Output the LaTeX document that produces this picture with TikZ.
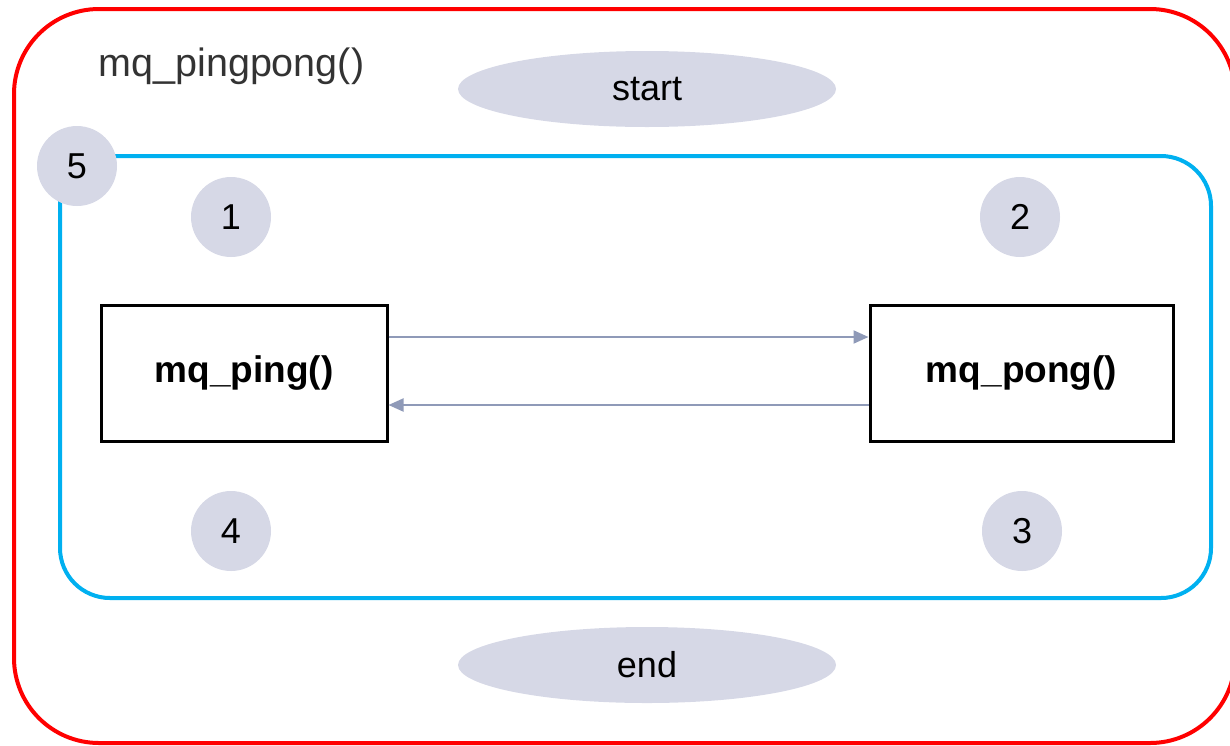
\documentclass[tikz,border=0pt]{standalone}
\usepackage{fontspec}
\setmainfont{Liberation Sans}
\usetikzlibrary{arrows.meta,shapes.geometric}
\definecolor{badge}{HTML}{D6D8E6}
\definecolor{flow}{HTML}{8F9AB8}
\definecolor{outer}{HTML}{FF0000}
\definecolor{inner}{HTML}{00B0F0}
\definecolor{title}{HTML}{333333}
\tikzset{
  numdisc/.style={circle, fill=badge, minimum size=80pt, inner sep=0pt, font=\fontsize{36}{42}\selectfont},
  endcap/.style={ellipse, fill=badge, minimum width=378pt, minimum height=76pt, inner sep=0pt, font=\fontsize{36}{42}\selectfont},
  funcbox/.style={draw=black, line width=3pt, minimum height=136pt, inner sep=0pt, font=\bfseries\fontsize{37}{44}\selectfont},
  msg/.style={draw=flow, line width=2pt, -{Triangle[length=15pt,width=13pt]}},
}
\begin{document}
\begin{tikzpicture}[x=1pt,y=-1pt]
\useasboundingbox (0,0) rectangle (1230,745);
\begin{scope}
\clip (0,0) rectangle (1230,745);
% outer frame
\draw[outer, line width=4pt, rounded corners=85pt] (14,9) rectangle (1235,743);
\end{scope}
\node[anchor=west, text=title, font=\fontsize{39.5}{46}\selectfont] (ttl) at (95,66) {mq\_pingpong()};
\node[endcap] (start) at (647,89) {start};
\node[endcap] (end) at (647,665) {end};
% inner loop frame
\draw[inner, line width=4pt, rounded corners=50pt] (60,156) rectangle (1211,598);
\node[numdisc] (n5) at (77,166) {5};
\node[numdisc] (n1) at (231,217) {1};
\node[numdisc] (n2) at (1020,217) {2};
\node[numdisc] (n3) at (1022,531) {3};
\node[numdisc] (n4) at (231,531) {4};
% the two functions
\node[funcbox, minimum width=286pt] (ping) at (244,373) {mq\_ping()};
\node[funcbox, minimum width=303pt] (pong) at (1021.5,373) {mq\_pong()};
\draw[msg] ([yshift=36pt]ping.east) -- ([yshift=36pt]pong.west);
\draw[msg] ([yshift=-32pt]pong.west) -- ([yshift=-32pt]ping.east);
\end{tikzpicture}
\end{document}
